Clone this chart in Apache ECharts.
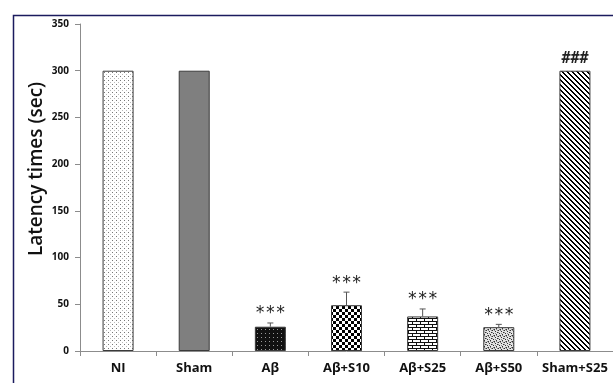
<!DOCTYPE html>
<html>
<head>
<meta charset="utf-8">
<script src="https://cdn.jsdelivr.net/npm/echarts@6/dist/echarts.min.js"></script>
<style>
  html, body { margin: 0; padding: 0; background: #fff; }
  #chart { width: 613px; height: 383px; }
</style>
</head>
<body>
<div id="chart"></div>
<script>
// Groups and mean latency (sec) with SEM
const categories = ['NI', 'Sham', 'Aβ', 'Aβ+S10', 'Aβ+S25', 'Aβ+S50', 'Sham+S25'];
const latency = [300, 300, 26, 49, 37, 25.5, 300];
const sem = [0, 0, 4, 14, 8, 3, 0];
const marks = ['', '', '***', '***', '***', '***', '###'];
const yTicks = [0, 50, 100, 150, 200, 250, 300, 350];

// Small tiled canvases used as bar fills
function tile(w, h, draw) {
  const c = document.createElement('canvas');
  c.width = w; c.height = h;
  const ctx = c.getContext('2d');
  draw(ctx);
  return { image: c, repeat: 'repeat' };
}
const px = (ctx, x, y, col) => { ctx.fillStyle = col; ctx.fillRect(x, y, 1, 1); };

const fills = [
  // sparse dots
  tile(4, 4, ctx => {
    ctx.fillStyle = '#fff'; ctx.fillRect(0, 0, 4, 4);
    px(ctx, 0, 0, '#777'); px(ctx, 2, 2, '#bbb');
  }),
  // solid grey
  '#7f7f7f',
  // dark with light dots
  tile(4, 4, ctx => {
    ctx.fillStyle = '#111'; ctx.fillRect(0, 0, 4, 4);
    px(ctx, 1, 1, '#999');
  }),
  // checkerboard
  tile(6, 6, ctx => {
    ctx.fillStyle = '#fff'; ctx.fillRect(0, 0, 6, 6);
    ctx.fillStyle = '#000'; ctx.fillRect(0, 0, 3, 3); ctx.fillRect(3, 3, 3, 3);
  }),
  // brick
  tile(8, 6, ctx => {
    ctx.fillStyle = '#fff'; ctx.fillRect(0, 0, 8, 6);
    ctx.fillStyle = '#111';
    ctx.fillRect(0, 0, 8, 1); ctx.fillRect(0, 3, 8, 1);
    ctx.fillRect(0, 0, 1, 3); ctx.fillRect(4, 3, 1, 3);
  }),
  // fine stipple
  tile(6, 6, ctx => {
    ctx.fillStyle = '#e4e4e4'; ctx.fillRect(0, 0, 6, 6);
    [[0,0],[3,1],[1,3],[4,4],[5,2],[2,5]].forEach(p => px(ctx, p[0], p[1], '#333'));
    [[2,0],[5,0],[0,2],[3,3],[1,5],[4,5]].forEach(p => px(ctx, p[0], p[1], '#888'));
  }),
  // diagonal stripes
  tile(5, 5, ctx => {
    ctx.fillStyle = '#fff'; ctx.fillRect(0, 0, 5, 5);
    ctx.fillStyle = '#000';
    for (let i = 0; i < 5; i++) { ctx.fillRect(i, i, 2, 1); if (i === 4) ctx.fillRect(0, 4, 1, 1); }
  })
];

const chart = echarts.init(document.getElementById('chart'), null, { renderer: 'canvas' });

const barData = latency.map((v, i) => ({
  value: v,
  itemStyle: { color: fills[i], borderColor: '#3a3a3a', borderWidth: 1 }
}));

const errData = latency.map((v, i) => [i, v, sem[i]]);

chart.setOption({
  animation: false,
  backgroundColor: '#fff',
  grid: { left: 80, right: -2, top: 24, bottom: 32 },
  graphic: [
    {
      type: 'rect', left: 11, top: 13, z: 100, silent: true,
      shape: { width: 700, height: 500 },
      style: { fill: 'none', stroke: '#1b1b5e', lineWidth: 1.5 }
    },
    {
      type: 'text', x: 37, y: 169, rotation: Math.PI / 2,
      style: {
        text: 'Latency times (sec)', fill: '#111',
        font: '600 19px "Open Sans"', align: 'center', verticalAlign: 'middle'
      }
    }
  ],
  xAxis: {
    type: 'category',
    data: categories,
    axisLine: { lineStyle: { color: '#8c8c8c', width: 1 } },
    axisTick: { show: true, alignWithLabel: false, length: 5, lineStyle: { color: '#8c8c8c' } },
    axisLabel: {
      interval: 0, color: '#111', fontFamily: 'Open Sans', fontWeight: 'bold',
      fontSize: 13, margin: 11
    }
  },
  yAxis: {
    type: 'value',
    min: yTicks[0], max: yTicks[yTicks.length - 1], interval: 50,
    splitLine: { show: false },
    axisLine: { show: true, lineStyle: { color: '#8c8c8c', width: 1 } },
    axisTick: { show: true, length: 5, lineStyle: { color: '#8c8c8c' } },
    axisLabel: { color: '#111', fontFamily: 'Open Sans', fontWeight: 'bold', fontSize: 10, margin: 11 }
  },
  series: [
    {
      type: 'bar',
      barWidth: 31,
      data: barData
    },
    {
      type: 'custom',
      data: errData,
      z: 10,
      renderItem(params, api) {
        const i = api.value(0), v = api.value(1), e = api.value(2);
        const mark = marks[params.dataIndex];
        const top = api.coord([i, v + e]);
        const base = api.coord([i, v]);
        const children = [];
        if (e > 0) {
          children.push({
            type: 'line',
            shape: { x1: top[0], y1: base[1], x2: top[0], y2: top[1] },
            style: { stroke: '#555', lineWidth: 1 }
          });
          children.push({
            type: 'line',
            shape: { x1: top[0] - 3, y1: top[1], x2: top[0] + 3, y2: top[1] },
            style: { stroke: '#555', lineWidth: 1 }
          });
        }
        if (mark) {
          const hash = mark === '###';
          children.push({
            type: 'text',
            x: top[0], y: top[1] - (hash ? 12 : 9),
            style: {
              text: mark, fill: '#222',
              font: hash ? 'bold 15px "DejaVu Sans Mono"' : '17px "DejaVu Sans Mono"',
              align: 'center', verticalAlign: 'middle'
            }
          });
        }
        return { type: 'group', children };
      }
    }
  ]
});
</script>
</body>
</html>
